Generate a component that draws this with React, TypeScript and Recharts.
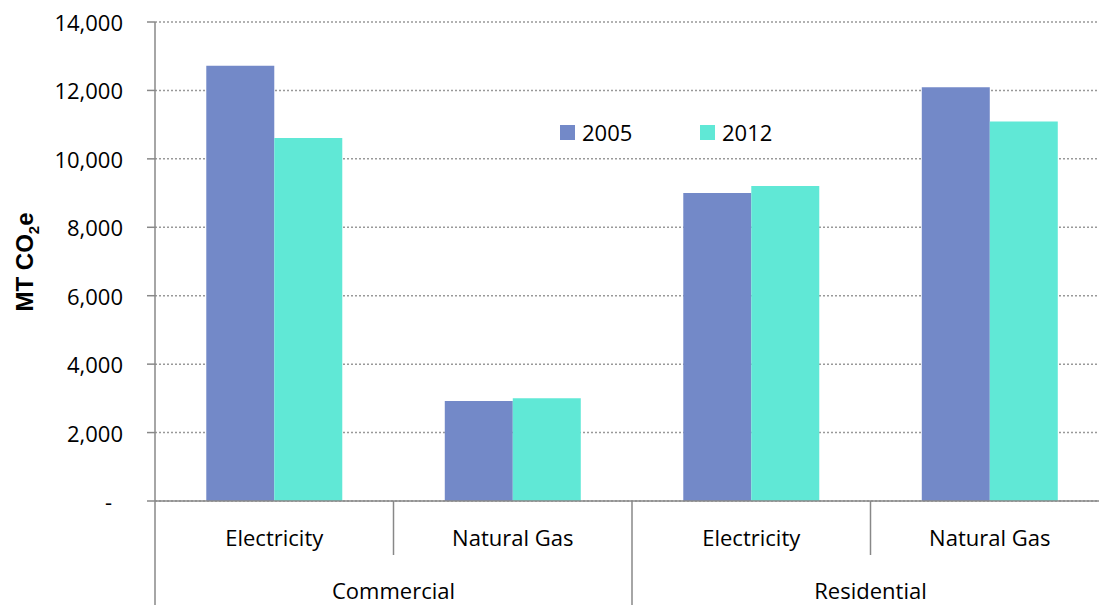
import React from "react";
import { BarChart, Bar, XAxis, YAxis, CartesianGrid } from "recharts";

const categories = ["Electricity", "Natural Gas", "Electricity", "Natural Gas"];
const sectors = ["Commercial", "Commercial", "Residential", "Residential"];
const values2005 = [12720, 2920, 9000, 12090];
const values2012 = [10610, 3000, 9210, 11090];
const yTicks = [0, 2000, 4000, 6000, 8000, 10000, 12000, 14000];
const seriesNames = ["2005", "2012"];
const seriesColors = ["#7389C8", "#60E8D6"];

const data = categories.map((cat, i) => ({
  key: `${sectors[i]}-${cat}`,
  cat,
  sector: sectors[i],
  y2005: values2005[i],
  y2012: values2012[i],
}));

const W = 1110;
const H = 605;
const LEFT = 155;
const TOP = 22;
const AXIS_H = 104;
const BASE = H - AXIS_H;
const BAND = (W - LEFT - 1) / categories.length;
const FONT = "'Open Sans', sans-serif";
const AXIS_COLOR = "#888";

function XTick(props: any) {
  const { x, payload } = props;
  const i = payload.index;
  const right = x + BAND / 2;
  const groupEnd = i === sectors.length - 1 || sectors[i + 1] !== sectors[i];
  const groupStart = i === 0 || sectors[i - 1] !== sectors[i];
  return (
    <g>
      <text x={x} y={537} textAnchor="middle" dominantBaseline="central" fontSize={22} fontFamily={FONT} fill="#000">
        {categories[i]}
      </text>
      <line x1={right} x2={right} y1={BASE} y2={groupEnd ? H : BASE + 54} stroke={AXIS_COLOR} strokeWidth={1.5} />
      {groupStart && (
        <text x={right} y={590} textAnchor="middle" dominantBaseline="central" fontSize={22} fontFamily={FONT} fill="#000">
          {sectors[i]}
        </text>
      )}
      {i === 0 && <line x1={x - BAND / 2} x2={x - BAND / 2} y1={BASE} y2={H} stroke={AXIS_COLOR} strokeWidth={1.5} />}
    </g>
  );
}

function YTick(props: any) {
  const { x, y, payload } = props;
  const zero = payload.value === 0;
  return (
    <text x={zero ? x - 11 : x} y={y} textAnchor="end" dominantBaseline="central" fontSize={22} fontFamily={FONT} fill="#000">
      {zero ? "-" : payload.value.toLocaleString("en-US")}
    </text>
  );
}

export default function App() {
  return (
    <div style={{ position: "absolute", left: 0, top: 0, width: 1099, height: 605, overflow: "hidden", background: "#fff" }}>
      <BarChart
        width={W}
        height={H}
        data={data}
        margin={{ top: TOP, right: 1, bottom: 0, left: 0 }}
        barGap={0}
        barCategoryGap="21.5%"
      >
        <CartesianGrid vertical={false} stroke="#999" strokeDasharray="2 2" strokeWidth={1.5} />
        <XAxis
          dataKey="key"
          height={AXIS_H}
          axisLine={{ stroke: AXIS_COLOR, strokeWidth: 1.5 }}
          tickLine={false}
          interval={0}
          tick={<XTick />}
        />
        <YAxis
          width={LEFT}
          domain={[0, 14000]}
          ticks={yTicks}
          interval={0}
          axisLine={{ stroke: AXIS_COLOR, strokeWidth: 1.5 }}
          tickLine={{ stroke: AXIS_COLOR, strokeWidth: 1.5 }}
          tickSize={8}
          tickMargin={24}
          tick={<YTick />}
          label={{
            content: () => (
              <text
                transform="translate(33, 262) rotate(-90)"
                textAnchor="middle"
                fontSize={24}
                fontWeight="bold"
                fontFamily="'Liberation Sans', Arial, sans-serif"
                fill="#000"
              >
                MT CO<tspan fontSize={15} dy={6}>2</tspan>
                <tspan dy={-6}>e</tspan>
              </text>
            ),
          }}
        />
        <Bar dataKey="y2005" name={seriesNames[0]} fill={seriesColors[0]} isAnimationActive={false} />
        <Bar dataKey="y2012" name={seriesNames[1]} fill={seriesColors[1]} isAnimationActive={false} />
      </BarChart>
      <div style={{ position: "absolute", left: 560, top: 117, display: "flex", fontFamily: FONT, fontSize: 22 }}>
        {seriesNames.map((name, i) => (
          <div key={name} style={{ display: "flex", alignItems: "center", width: 140 }}>
            <span style={{ width: 15, height: 15, background: seriesColors[i], display: "inline-block", marginRight: 7 }} />
            <span>{name}</span>
          </div>
        ))}
      </div>
    </div>
  );
}
